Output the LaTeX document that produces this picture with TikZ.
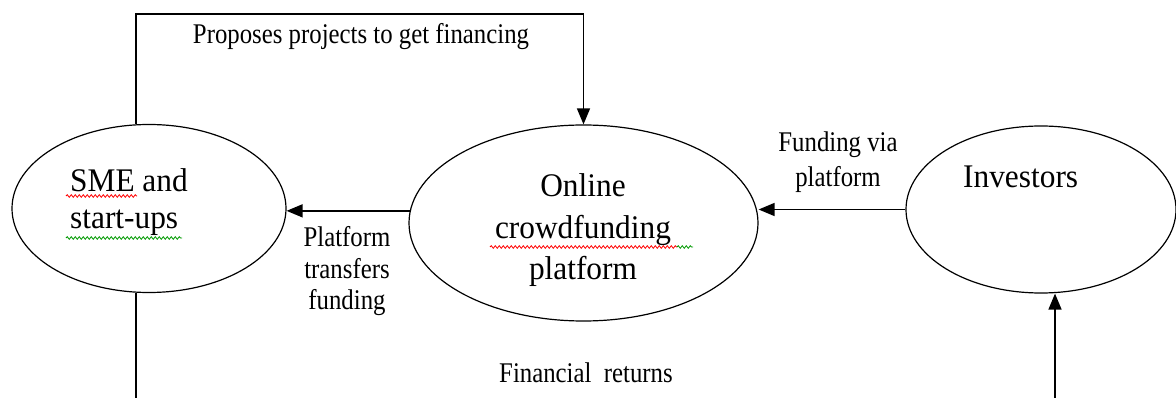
\documentclass[tikz,border=0pt]{standalone}
\usepackage{fontspec}
\setmainfont{Liberation Serif}
\usetikzlibrary{arrows.meta,shapes.geometric,decorations.pathmorphing}
\newcommand{\bigtext}[2][c]{\scalebox{0.95}[1]{\begin{tabular}[t]{@{}#1@{}}#2\end{tabular}}}
\newcommand{\smalltext}[2][c]{\scalebox{0.87}[1]{\begin{tabular}[t]{@{}#1@{}}#2\end{tabular}}}
\begin{document}
\begin{tikzpicture}[x=1pt,y=-1pt,
  oval/.style={ellipse,draw,line width=1.2pt,inner sep=0pt},
  arr/.style={line width=1.5pt,-{Triangle[length=16pt,width=13pt]}},
  plain/.style={line width=1.5pt},
  bigtxt/.style={font=\fontsize{33}{36.5}\selectfont,inner sep=0pt,anchor=base},
  smalltxt/.style={font=\fontsize{28.5}{31.5}\selectfont,inner sep=0pt,anchor=base},
  squig/.style={line width=0.8pt,decorate,decoration={snake,amplitude=1.3pt,segment length=4pt}}]
\path[use as bounding box] (0,0) rectangle (1176,398);
% ellipses
\node[oval,minimum width=274pt,minimum height=168pt] (sme) at (149,208.5) {};
\node[oval,minimum width=349pt,minimum height=196pt] (plat) at (583.5,223) {};
\node[oval,minimum width=270pt,minimum height=167pt] (inv) at (1041,209.5) {};
% ellipse texts
\node[bigtxt,anchor=base west] (smet) at (70,192) {\bigtext[l]{SME and\\start-ups}};
\node[bigtxt,font=\fontsize{33}{41.5}\selectfont] (platt) at (583,197) {\bigtext{Online\\crowdfunding\\platform}};
\node[bigtxt,anchor=base west] (invt) at (963,188) {\bigtext{Investors}};
% connectors
\coordinate (topy) at (0,14);
\draw[arr] ([xshift=-13pt]sme.north) |- (topy -| plat.north) -- (plat.north);
\draw[arr] (plat.176) -- (plat.176 -| sme.east);
\draw[arr] (inv.west) -- (inv.west -| plat.east);
\coordinate (smeout) at (136,400);
\coordinate (invin) at (1055,400);
\draw[plain] ([xshift=-13pt]sme.south) -- (smeout);
\draw[arr] (invin) -- ([xshift=14pt]inv.south);
% labels
\node[smalltxt] (l1) at (361,44) {\smalltext{Proposes projects to get financing}};
\node[smalltxt] (l2) at (347,247) {\smalltext{Platform\\transfers\\funding}};
\node[smalltxt,font=\fontsize{28.5}{35}\selectfont] (l3) at (838,152) {\smalltext{Funding via\\platform}};
\node[smalltxt] (l4) at (586,382) {\smalltext{Financial\ \ returns}};
% spell-check squiggles
\draw[squig,red] (66,196) -- (137,196);
\draw[squig,green!60!black] (66,238) -- (182,238);
\draw[squig,red] (490,247) -- (677,247);
\draw[squig,green!60!black] (677,247) -- (693,247);
\end{tikzpicture}
\end{document}
